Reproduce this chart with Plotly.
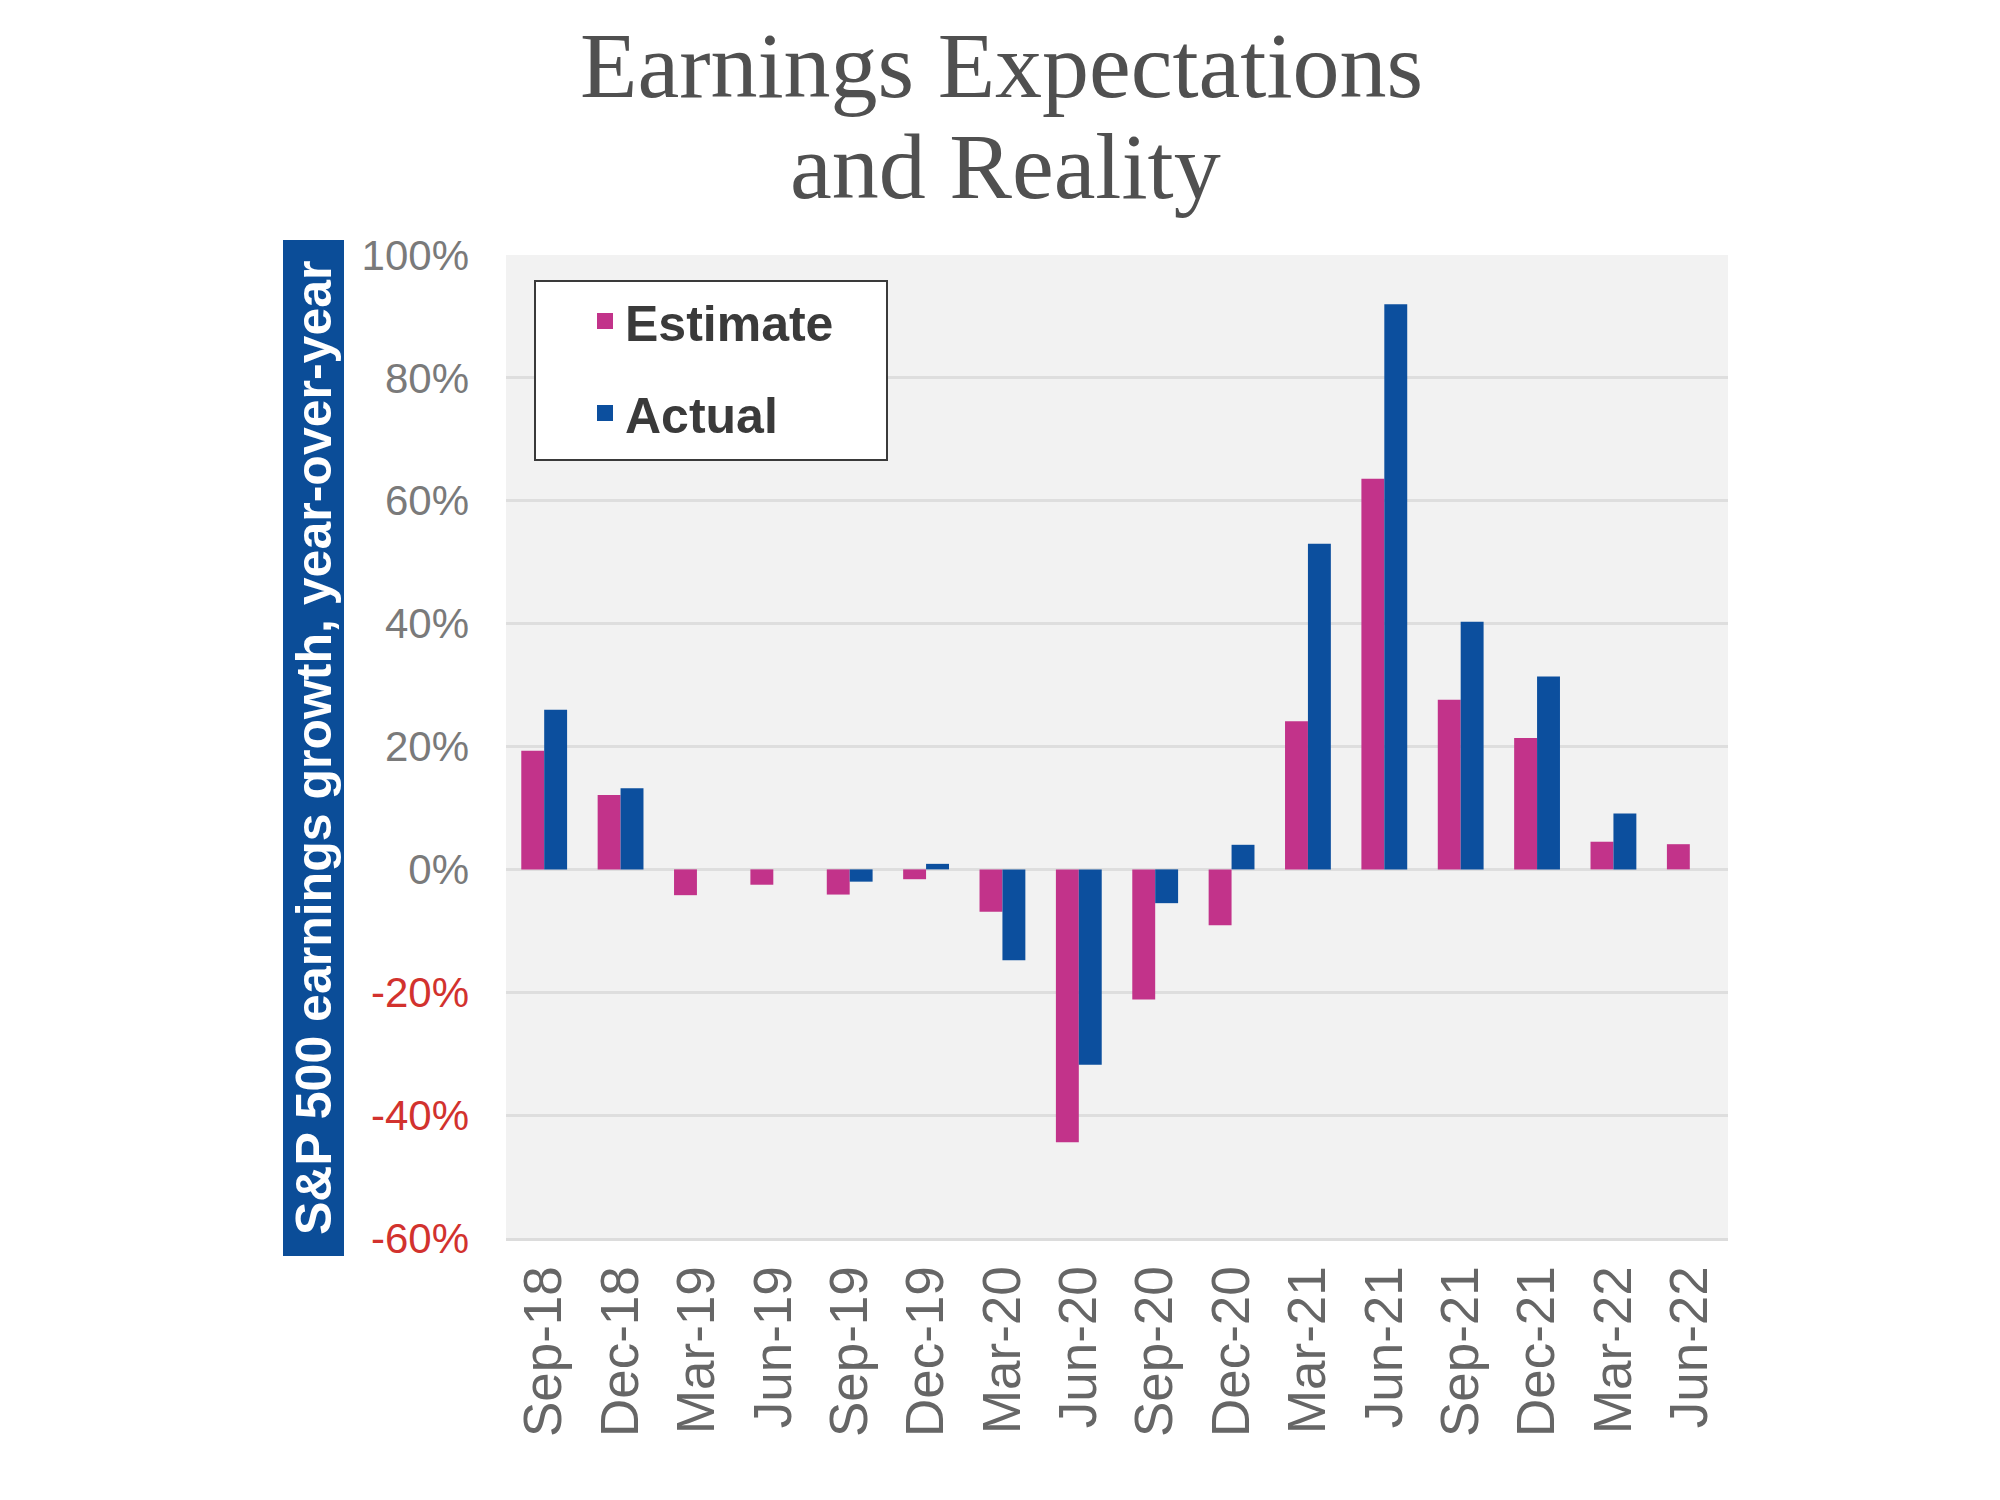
import plotly.graph_objects as go

# ---- data ----
quarters = ["Sep-18", "Dec-18", "Mar-19", "Jun-19", "Sep-19", "Dec-19", "Mar-20", "Jun-20",
            "Sep-20", "Dec-20", "Mar-21", "Jun-21", "Sep-21", "Dec-21", "Mar-22", "Jun-22"]
estimate = [19.3, 12.1, -4.2, -2.5, -4.1, -1.6, -6.9, -44.4,
            -21.2, -9.1, 24.1, 63.6, 27.6, 21.4, 4.5, 4.1]
actual = [26.0, 13.2, None, None, -2.0, 0.9, -14.8, -31.8,
          -5.5, 4.0, 53.0, 92.0, 40.3, 31.4, 9.1, None]
y_ticks = [100, 80, 60, 40, 20, 0, -20, -40, -60]

# ---- layout geometry (page pixels) ----
W, H = 2000, 1500
OFF = 8  # default page body margin
L, R, T, B = 506, 1728, 255, 1238


def px(x):
    return (x - L) / (R - L)


def py(y):
    return (B - y) / (B - T)


EST_COLOR = "#C2338A"
ACT_COLOR = "#0C4F9E"
BOX_BLUE = "#0B4D98"

tick_text = []
for v in y_ticks:
    col = "#D2322E" if v < 0 else "#7A7A7A"
    tick_text.append(f'<span style="color:{col}">{v}%</span>')

fig = go.Figure()
fig.add_trace(go.Bar(x=quarters, y=estimate, name="Estimate", marker_color=EST_COLOR,
                     marker_line_width=0, showlegend=False))
fig.add_trace(go.Bar(x=quarters, y=actual, name="Actual", marker_color=ACT_COLOR,
                     marker_line_width=0, showlegend=False))
# legend entries (square swatches)
for nm, col in (("Estimate", EST_COLOR), ("Actual", ACT_COLOR)):
    fig.add_trace(go.Scatter(x=[None], y=[None], mode="markers", name=nm, legendgroup=nm,
                             marker=dict(symbol="square", size=16, color=col),
                             hoverinfo="skip"))

fig.update_layout(
    width=W, height=H,
    margin=dict(l=L - OFF, r=W - R + OFF, t=T - OFF, b=H - B + OFF, pad=0),
    paper_bgcolor="white",
    plot_bgcolor="#F2F2F2",
    barmode="group",
    bargap=0.40,
    bargroupgap=0,
    font=dict(family="Liberation Sans, Arial, sans-serif", color="#666666"),
    showlegend=True,
    legend=dict(
        x=px(585), xanchor="left",
        y=py(282), yanchor="top",
        bgcolor="rgba(0,0,0,0)",
        borderwidth=0,
        font=dict(size=50, color="#3A3A3A", weight="bold"),
        tracegroupgap=24,
        itemclick=False,
    ),
    xaxis=dict(
        tickangle=-90,
        tickfont=dict(size=53, color="#666666"),
        showgrid=False,
        showline=True, linecolor="#DCDCDC", linewidth=3,
        ticks="",
        ticklabelstandoff=4,
    ),
    yaxis=dict(
        range=[-60, 100],
        tickvals=y_ticks,
        ticktext=tick_text,
        tickfont=dict(size=42),
        showgrid=True, gridcolor="#DEDEDE", gridwidth=2.5,
        zeroline=True, zerolinecolor="#DEDEDE", zerolinewidth=2.5,
        ticks="",
        ticklabelstandoff=36,
    ),
)

# y-axis title box
fig.add_shape(type="rect", xref="paper", yref="paper",
              x0=px(283), x1=px(344), y0=py(1256), y1=py(240),
              fillcolor=BOX_BLUE, line_width=0, layer="above")
fig.add_annotation(xref="paper", yref="paper", x=px(314), y=py(748),
                   text="S&P 500 earnings growth, year-over-year", textangle=-90,
                   showarrow=False, xanchor="center", yanchor="middle",
                   font=dict(size=50, color="white", family="Liberation Sans, Arial, sans-serif",
                             weight="bold"))

# legend box
fig.add_shape(type="rect", xref="paper", yref="paper",
              x0=px(535), x1=px(887), y0=py(460), y1=py(281),
              fillcolor="white", line=dict(color="#3A3A3A", width=2), layer="above")

# title (two lines)
title_font = dict(family="Liberation Serif, Times New Roman, serif", size=94, color="#505050")
fig.add_annotation(xref="paper", yref="paper", x=px(1001), y=py(11), yanchor="top",
                   xanchor="center", text="Earnings Expectations", showarrow=False, font=title_font)
fig.add_annotation(xref="paper", yref="paper", x=px(1005), y=py(112), yanchor="top",
                   xanchor="center", text="and Reality", showarrow=False, font=title_font)

fig.write_html("out.html")
